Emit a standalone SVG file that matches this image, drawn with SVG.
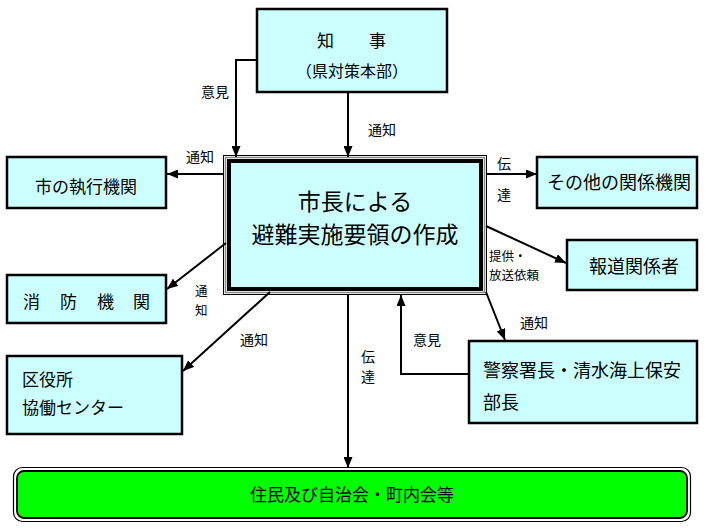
<svg xmlns="http://www.w3.org/2000/svg" width="710" height="532" viewBox="0 0 710 532">
<style>
.box{fill:#ccffff;stroke:#000;stroke-width:2.5}
.t{font-family:"Noto Sans CJK JP","Noto Sans",sans-serif;fill:#000}
.n{font-size:17px}
.l{font-size:14px}
.s{font-size:12.5px}
.c{fill:none;stroke:#000;stroke-width:2}
</style>
<defs>
<marker id="ah" markerUnits="userSpaceOnUse" markerWidth="11" markerHeight="9" refX="11" refY="4.5" orient="auto">
<path d="M0,0 L11,4.5 L0,9 z" fill="#000"/>
</marker>
</defs>
<rect width="710" height="532" fill="#fff"/>

<g id="chiji">
<rect class="box" x="257" y="9" width="190" height="83"/>
<text class="t n" x="317" y="47">知</text>
<text class="t n" x="369" y="47">事</text>
<text class="t" x="352" y="77" font-size="16" text-anchor="middle">（県対策本部）</text>
</g>

<g id="center">
<rect x="223.5" y="155.5" width="263" height="139" fill="#fff" stroke="#000" stroke-width="1"/>
<rect x="225.5" y="157.5" width="259" height="135" fill="none" stroke="#888" stroke-width="1.5"/>
<rect x="229" y="161" width="252" height="128" fill="#ccffff" stroke="#000" stroke-width="4"/>
<text class="t" x="355" y="210" font-size="23" text-anchor="middle">市長による</text>
<text class="t" x="355" y="243" font-size="23" text-anchor="middle">避難実施要領の作成</text>
</g>

<g id="shikko">
<rect class="box" x="7" y="157" width="159" height="51"/>
<text class="t n" x="35" y="193">市の執行機関</text>
</g>

<g id="shobo">
<rect class="box" x="7" y="275" width="159" height="48"/>
<text class="t n" x="23" y="308">消</text>
<text class="t n" x="60" y="308">防</text>
<text class="t n" x="97" y="308">機</text>
<text class="t n" x="133" y="308">関</text>
</g>

<g id="kuyakusho">
<rect class="box" x="7" y="356" width="175" height="78"/>
<text class="t n" x="22" y="386">区役所</text>
<text class="t n" x="22" y="414">協働センター</text>
</g>

<g id="sonota">
<rect class="box" x="537" y="157" width="160" height="51"/>
<text class="t" x="547" y="189" font-size="18">その他の関係機関</text>
</g>

<g id="hodo">
<rect class="box" x="567" y="240" width="130" height="50"/>
<text class="t" x="589" y="273" font-size="18">報道関係者</text>
</g>

<g id="keisatsu">
<rect class="box" x="469" y="341" width="228" height="82"/>
<text class="t" x="483" y="377" font-size="18">警察署長・清水海上保安</text>
<text class="t" x="483" y="409" font-size="18">部長</text>
</g>

<g id="jumin">
<rect x="13.5" y="467.5" width="677" height="54" rx="9" fill="#fff" stroke="#000" stroke-width="1.2"/>
<rect x="17" y="471" width="670" height="47" rx="7" fill="#00ff00" stroke="#000" stroke-width="1.8"/>
<text class="t n" x="352" y="501" text-anchor="middle">住民及び自治会・町内会等</text>
</g>

<g id="connectors">
<path class="c" d="M257,60 H236 V157" marker-end="url(#ah)"/>
<path class="c" d="M348,92 V157" marker-end="url(#ah)"/>
<path class="c" d="M224,174 H167" marker-end="url(#ah)"/>
<path class="c" d="M226,243 L167,289" marker-end="url(#ah)"/>
<path class="c" d="M270,292 L183,371" marker-end="url(#ah)"/>
<path class="c" d="M348,295 V468" marker-end="url(#ah)"/>
<path class="c" d="M487,174 H537" marker-end="url(#ah)"/>
<path class="c" d="M486,226 L566,263" marker-end="url(#ah)"/>
<path class="c" d="M486,292 L505,340" marker-end="url(#ah)"/>
<path class="c" d="M469,374 H401 V295" marker-end="url(#ah)"/>
<text class="t l" x="201" y="97">意見</text>
<text class="t l" x="368" y="135">通知</text>
<text class="t l" x="186" y="162">通知</text>
<text class="t s" x="195" y="296">通</text>
<text class="t s" x="195" y="315">知</text>
<text class="t l" x="240" y="345">通知</text>
<text class="t l" x="361" y="362">伝</text>
<text class="t l" x="361" y="382">達</text>
<text class="t l" x="497" y="169">伝</text>
<text class="t l" x="497" y="200">達</text>
<text class="t s" x="489" y="261">提供・</text>
<text class="t s" x="489" y="280">放送依頼</text>
<text class="t l" x="413" y="345">意見</text>
<text class="t l" x="520" y="328">通知</text>
</g>
</svg>
